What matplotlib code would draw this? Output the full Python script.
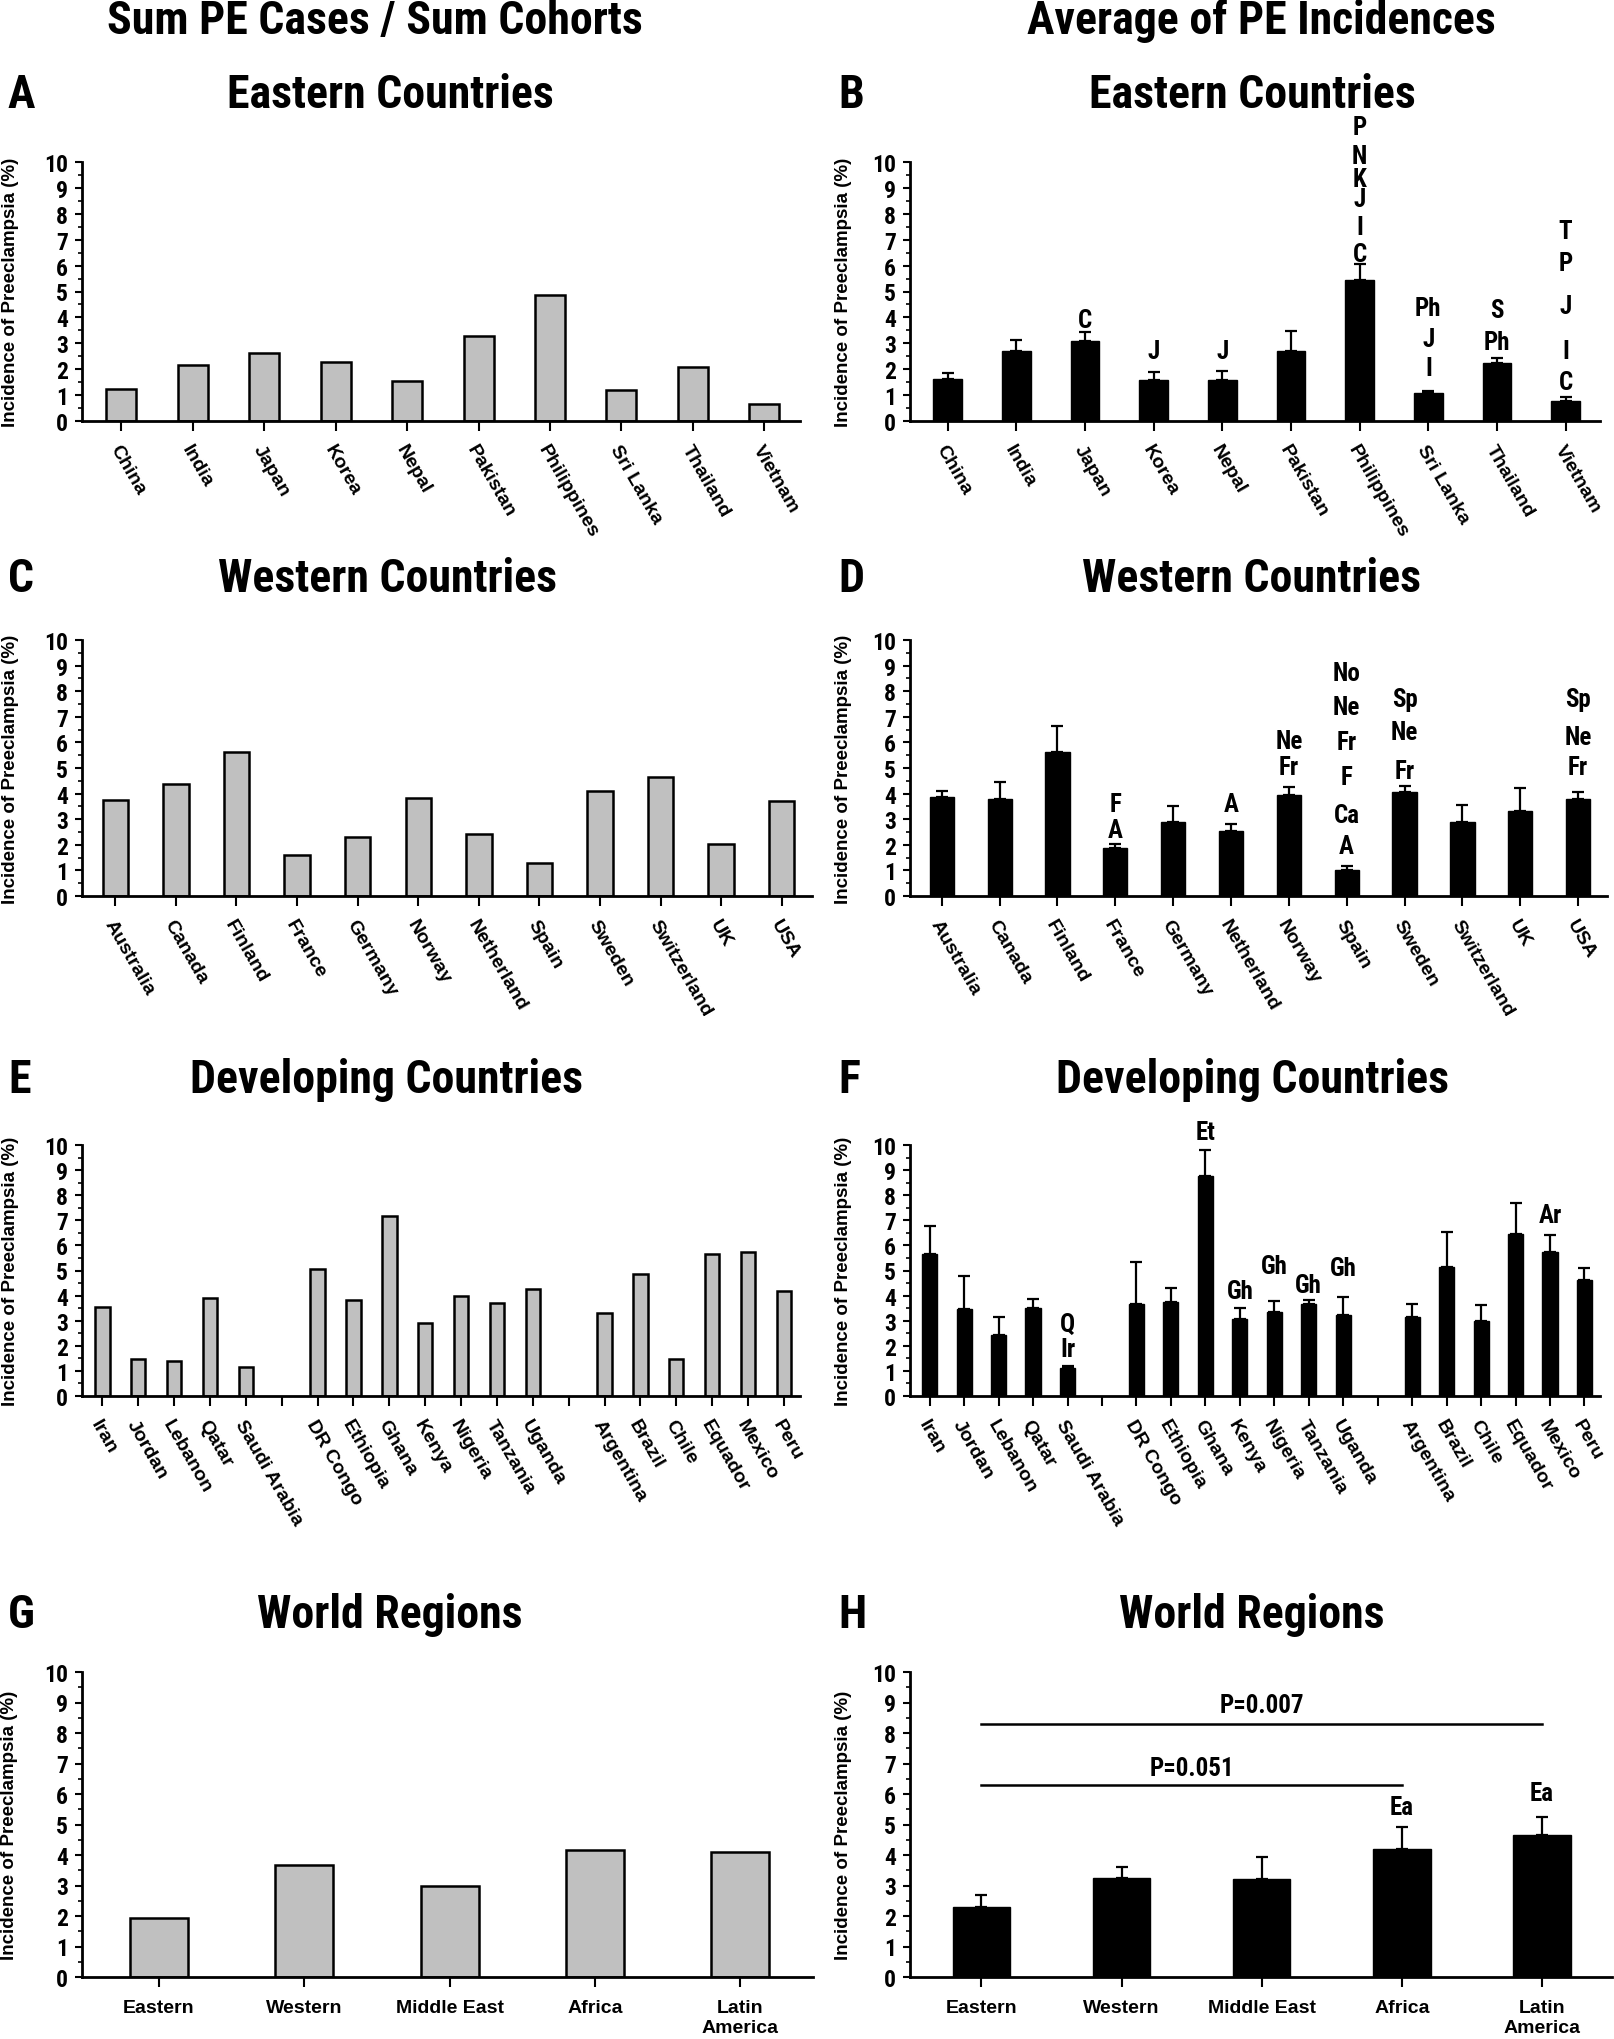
import numpy as np
import matplotlib.pyplot as plt
from matplotlib.ticker import MultipleLocator
from matplotlib import font_manager as fm

# the original uses Arial Narrow Bold for titles/ticks; use a condensed face if one exists
installed = {f.name for f in fm.fontManager.ttflist}
narrow = None
for cand in ['Liberation Sans Narrow', 'Arial Narrow', 'Roboto Condensed',
             'DejaVu Sans Condensed', 'Open Sans Condensed']:
    if cand in installed:
        narrow = cand
        break
WIDE = ['Liberation Sans', 'DejaVu Sans']
NARROW = [narrow] + WIDE if narrow else WIDE
scale = 1.0 if narrow else 0.83   # shrink a wide face to the narrow width

plt.rcParams['font.family'] = NARROW
plt.rcParams['font.weight'] = 'bold'

# ---------------- data ----------------
east = ['China', 'India', 'Japan', 'Korea', 'Nepal', 'Pakistan', 'Philippines',
        'Sri Lanka', 'Thailand', 'Vietnam']
east_sum = [1.22, 2.16, 2.61, 2.29, 1.55, 3.28, 4.87, 1.18, 2.07, 0.64]
east_avg = [1.63, 2.72, 3.09, 1.59, 1.59, 2.69, 5.43, 1.09, 2.23, 0.77]
east_sem = [0.22, 0.40, 0.34, 0.30, 0.34, 0.80, 0.64, 0.07, 0.20, 0.16]
east_sig = [[], [], ['C'], ['J'], ['J'], [], ['C', 'I', 'J', 'K', 'N', 'P'],
            ['I', 'J', 'Ph'], ['Ph', 'S'], ['C', 'I', 'J', 'P', 'T']]

west_c = ['Australia', 'Canada', 'Finland', 'France', 'Germany', 'Norway',
          'Netherland', 'Spain', 'Sweden', 'Switzerland', 'UK', 'USA']
west_sum = [3.75, 4.38, 5.62, 1.62, 2.31, 3.84, 2.41, 1.27, 4.12, 4.63, 2.05, 3.71]

west_d = ['Australia', 'Canada', 'Finland', 'France', 'Germany', 'Netherland',
          'Norway', 'Spain', 'Sweden', 'Switzerland', 'UK', 'USA']
west_avg = [3.86, 3.78, 5.61, 1.87, 2.91, 2.55, 3.95, 1.00, 4.08, 2.91, 3.33, 3.78]
west_sem = [0.26, 0.69, 1.02, 0.16, 0.61, 0.26, 0.30, 0.17, 0.22, 0.65, 0.88, 0.30]
west_sig = [[], [], [], ['A', 'F'], [], ['A'], ['Fr', 'Ne'],
            ['A', 'Ca', 'F', 'Fr', 'Ne', 'No'], ['Fr', 'Ne', 'Sp'], [], [],
            ['Fr', 'Ne', 'Sp']]

mideast = ['Iran', 'Jordan', 'Lebanon', 'Qatar', 'Saudi Arabia']
africa = ['DR Congo', 'Ethiopia', 'Ghana', 'Kenya', 'Nigeria', 'Tanzania', 'Uganda']
latin = ['Argentina', 'Brazil', 'Chile', 'Equador', 'Mexico', 'Peru']
dev_sum = [3.53, 1.48, 1.39, 3.91, 1.15,
           5.07, 3.82, 7.16, 2.92, 4.00, 3.71, 4.28,
           3.30, 4.85, 1.47, 5.67, 5.72, 4.17]
dev_avg = [5.67, 3.45, 2.42, 3.49, 1.11,
           3.68, 3.75, 8.75, 3.08, 3.36, 3.68, 3.21,
           3.15, 5.13, 2.99, 6.46, 5.73, 4.61]
dev_sem = [1.10, 1.35, 0.73, 0.37, 0.08,
           1.64, 0.56, 1.07, 0.42, 0.43, 0.13, 0.73,
           0.50, 1.39, 0.62, 1.23, 0.69, 0.49]
dev_sig = [[], [], [], [], ['Ir', 'Q'],
           [], [], ['Et'], ['Gh'], ['Gh'], ['Gh'], ['Gh'],
           [], [], [], [], ['Ar'], []]

regions = ['Eastern', 'Western', 'Middle East', 'Africa', 'Latin\nAmerica']
reg_sum = [1.94, 3.66, 3.00, 4.16, 4.10]
reg_avg = [2.29, 3.26, 3.22, 4.19, 4.66]
reg_sem = [0.39, 0.35, 0.73, 0.73, 0.57]
reg_sig = [[], [], [], ['Ea'], ['Ea']]
reg_tests = [(0, 4, 'P=0.007'), (0, 3, 'P=0.051')]

# ---------------- layout (pixels) ----------------
W, H = 1614, 2040
# heights of the letter stacks (data units), placed by hand like the original
east_sig_y = [[], [], [3.89], [2.69], [2.72], [], [6.43, 7.49, 8.56, 9.36, 10.23, 11.36],
              [2.03, 3.16, 4.36], [3.05, 4.29], [1.52, 2.69, 4.45, 6.09, 7.33]]
west_sig_y = [[], [], [], [2.59, 3.59], [], [3.59], [5.03, 6.06],
              [1.97, 3.17, 4.66, 6.02, 7.38, 8.70], [4.90, 6.39, 7.71], [], [],
              [5.03, 6.22, 7.71]]
dev_sig_y = [[], [], [], [], [1.87, 2.86],
             [], [], [10.53], [4.20], [5.16], [4.44], [5.10],
             [], [], [], [], [7.21], []]
reg_sig_y = [[], [], [], [5.56], [6.03]]
reg_test_y = [(8.28, 8.93), (6.29, 6.86)]

TITLE = 33 * scale
TICK = 17 * scale
SIG = 18 * scale

fig = plt.figure(figsize=(W / 100, H / 100), dpi=100)


def make_ax(l, t, r, b):
    return fig.add_axes([l / W, 1 - b / H, (r - l) / W, (b - t) / H])


def style(ax, xmin, xmax):
    ax.set_ylim(0, 10)
    ax.set_xlim(xmin, xmax)
    for s in ['top', 'right']:
        ax.spines[s].set_visible(False)
    for s in ['left', 'bottom']:
        ax.spines[s].set_linewidth(2)
    ax.yaxis.set_major_locator(MultipleLocator(1))
    ax.yaxis.set_minor_locator(MultipleLocator(0.5))
    ax.tick_params(axis='y', which='major', length=5, width=1.5, pad=5, labelsize=TICK)
    ax.tick_params(axis='y', which='minor', length=3, width=1.2)
    ax.tick_params(axis='x', length=7, width=1.5)


def country_labels(ax, pos, names):
    ax.set_xticks(pos)
    ax.set_xticklabels(names, rotation=-60, ha='left', va='top', rotation_mode='anchor',
                       fontsize=14, family=WIDE)
    ax.tick_params(axis='x', pad=8)


def region_labels(ax, pos, names):
    ax.set_xticks(pos)
    ax.set_xticklabels(names, fontsize=14, linespacing=1.25, va='top', family=WIDE)
    ax.tick_params(axis='x', pad=9)


def sig_text(ax, pos, sig, sig_y):
    for x, labs, ys in zip(pos, sig, sig_y):
        for lab, y in zip(labs, ys):
            ax.text(x, y, lab, ha='center', va='center', fontsize=SIG, clip_on=False)


def sum_bars(ax, pos, vals, width=0.42):
    ax.bar(pos, vals, width=width, color='#c0c0c0', edgecolor='black', linewidth=1.8)


def avg_bars(ax, pos, vals, sem, width=0.42):
    ax.bar(pos, vals, width=width, color='black', edgecolor='black', linewidth=1)
    ax.errorbar(pos, vals, yerr=[np.zeros(len(vals)), sem], fmt='none', ecolor='black',
                elinewidth=1.6, capsize=4, capthick=1.6)


def ylabel(ax, xpx):
    bb = ax.get_position()
    fig.text(xpx / W, (bb.y0 + bb.y1) / 2, 'Incidence of Preeclampsia (%)', rotation=90,
             ha='center', va='center', fontsize=13.5, family=WIDE)


def panel_title(letter, title, xl, xc, ypx):
    fig.text(xl / W, 1 - ypx / H, letter, ha='left', va='center', fontsize=TITLE)
    fig.text(xc / W, 1 - ypx / H, title, ha='center', va='center', fontsize=TITLE)


# column headers
fig.text(375 / W, 1 - 21 / H, 'Sum PE Cases / Sum Cohorts', ha='center', va='center',
         fontsize=TITLE)
fig.text(1261 / W, 1 - 21 / H, 'Average of PE Incidences', ha='center', va='center',
         fontsize=TITLE)

# ---- A / B : Eastern ----
pos = np.arange(len(east))
axA = make_ax(82, 163, 800, 422)
style(axA, -0.55, 9.5)
sum_bars(axA, pos, east_sum)
country_labels(axA, pos, east)
ylabel(axA, 11)
panel_title('A', 'Eastern Countries', 8, 390, 95)

axB = make_ax(910, 163, 1600, 422)
style(axB, -0.55, 9.5)
avg_bars(axB, pos, east_avg, east_sem)
sig_text(axB, pos, east_sig, east_sig_y)
country_labels(axB, pos, east)
ylabel(axB, 844)
panel_title('B', 'Eastern Countries', 838, 1252, 95)

# ---- C / D : Western ----
pos = np.arange(len(west_c))
axC = make_ax(82, 641, 812, 897)
style(axC, -0.55, 11.5)
sum_bars(axC, pos, west_sum)
country_labels(axC, pos, west_c)
ylabel(axC, 11)
panel_title('C', 'Western Countries', 8, 388, 579)

axD = make_ax(910, 641, 1607, 897)
style(axD, -0.55, 11.5)
avg_bars(axD, pos, west_avg, west_sem)
sig_text(axD, pos, west_sig, west_sig_y)
country_labels(axD, pos, west_d)
ylabel(axD, 844)
panel_title('D', 'Western Countries', 838, 1252, 579)

# ---- E / F : Developing ----
dev_names = mideast + [''] + africa + [''] + latin
tick_pos = np.arange(len(dev_names))
pos = np.array([i for i, n in enumerate(dev_names) if n])
axE = make_ax(82, 1146, 800, 1397)
style(axE, -0.57, 19.45)
sum_bars(axE, pos, dev_sum, width=0.4)
country_labels(axE, tick_pos, dev_names)
ylabel(axE, 11)
panel_title('E', 'Developing Countries', 8, 386, 1080)

axF = make_ax(910, 1146, 1600, 1397)
style(axF, -0.57, 19.45)
avg_bars(axF, pos, dev_avg, dev_sem, width=0.44)
sig_text(axF, pos, dev_sig, dev_sig_y)
country_labels(axF, tick_pos, dev_names)
ylabel(axF, 844)
panel_title('F', 'Developing Countries', 838, 1252, 1080)

# ---- G / H : World regions ----
pos = np.arange(len(regions))
axG = make_ax(82, 1673, 813, 1978)
style(axG, -0.53, 4.5)
sum_bars(axG, pos, reg_sum, width=0.4)
region_labels(axG, pos, regions)
ylabel(axG, 10)
panel_title('G', 'World Regions', 8, 390, 1615)

axH = make_ax(910, 1673, 1612, 1978)
style(axH, -0.51, 4.5)
avg_bars(axH, pos, reg_avg, reg_sem, width=0.41)
sig_text(axH, pos, reg_sig, reg_sig_y)
for (i, j, lab), (ly, ty) in zip(reg_tests, reg_test_y):
    axH.plot([pos[i], pos[j]], [ly, ly], color='black', lw=1.8)
    axH.text((pos[i] + pos[j]) / 2, ty, lab, ha='center', va='center', fontsize=SIG)
region_labels(axH, pos, regions)
ylabel(axH, 844)
panel_title('H', 'World Regions', 838, 1252, 1615)

fig.savefig('out.png', dpi=100, facecolor='white')
